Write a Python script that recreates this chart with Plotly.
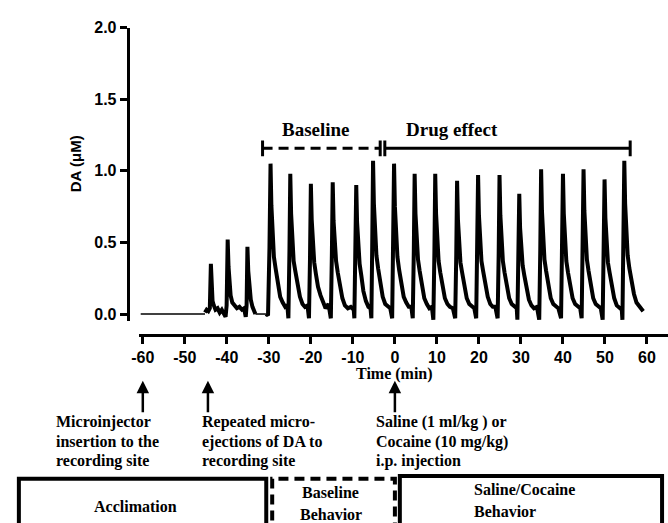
import plotly.graph_objects as go

W, H = 668, 523

# ---------------- data ----------------
x_tickvals = [-60, -50, -40, -30, -20, -10, 0, 10, 20, 30, 40, 50, 60]
x_ticktext = ["-60", "-50", "-40", "-30", "-20", "-10", "0", "10", "20", "30", "40", "50", "60"]
y_tickvals = [0.0, 0.5, 1.0, 1.5, 2.0]
y_ticktext = ["0.0", "0.5", "1.0", "1.5", "2.0"]

# thin flat recording (no DA ejections)
flat_time = [-60.5, -45.2, None, -33.2, -30.7]
flat_da = [0.0, 0.0, None, 0.0, 0.0]

# DA trace (time in min, DA in uM)
trace_points = [
    (-45.2, 0.01), (-44.8, 0.03), (-44.4, 0.02), (-44.05, 0.04), (-43.8, 0.35), (-43.6, 0.20),
    (-43.4, 0.09), (-43.1, 0.06), (-42.7, 0.03), (-42.2, 0.04), (-41.7, 0.01), (-41.2, 0.03),
    (-40.7, 0.00), (-40.3, -0.02),
    (-40.05, 0.06), (-39.8, 0.52), (-39.6, 0.33), (-39.4, 0.20), (-39.1, 0.13), (-38.7, 0.08),
    (-38.2, 0.06), (-37.6, 0.04), (-37.0, 0.05), (-36.4, 0.03), (-35.9, 0.04), (-35.5, -0.02),
    (-35.3, 0.06), (-35.1, 0.47), (-34.9, 0.30), (-34.6, 0.17), (-34.3, 0.10), (-33.9, 0.05),
    (-33.5, 0.02), (-33.2, 0.00),
    (None, None),
    (-30.7, 0.00), (-30.2, -0.01), (-29.85, 0.47), (-29.6, 1.05), (-29.4, 0.76), (-29.15, 0.55),
    (-28.8, 0.40), (-28.4, 0.32), (-27.9, 0.21), (-27.3, 0.12), (-26.7, 0.08), (-26.1, 0.05),
    (-25.6, 0.06), (-25.35, -0.03),
    (-25.1, 0.44), (-24.9, 0.98), (-24.7, 0.70), (-24.45, 0.50), (-24.1, 0.37), (-23.7, 0.30),
    (-23.2, 0.20), (-22.6, 0.12), (-22.0, 0.07), (-21.4, 0.05), (-20.8, 0.06), (-20.45, -0.03),
    (-20.2, 0.40), (-20.0, 0.91), (-19.8, 0.66), (-19.55, 0.47), (-19.2, 0.36), (-18.8, 0.28),
    (-18.3, 0.19), (-17.7, 0.13), (-17.1, 0.08), (-16.5, 0.04), (-15.8, 0.07), (-15.25, -0.03),
    (-15.0, 0.42), (-14.8, 0.92), (-14.6, 0.65), (-14.35, 0.48), (-14.0, 0.37), (-13.6, 0.29),
    (-13.1, 0.19), (-12.5, 0.11), (-11.9, 0.06), (-11.2, 0.04), (-10.5, 0.05), (-9.8, 0.03),
    (-9.65, -0.03),
    (-9.4, 0.40), (-9.2, 0.90), (-9.0, 0.64), (-8.75, 0.46), (-8.4, 0.35), (-8.0, 0.27),
    (-7.5, 0.16), (-6.9, 0.09), (-6.3, 0.05), (-5.8, 0.04), (-5.6, -0.03),
    (-5.4, 0.48), (-5.2, 1.07), (-5.0, 0.77), (-4.75, 0.55), (-4.4, 0.41), (-4.0, 0.32),
    (-3.5, 0.21), (-2.9, 0.12), (-2.3, 0.07), (-1.7, 0.05), (-1.1, 0.04), (-0.65, -0.03),
    (-0.4, 0.46), (-0.2, 1.05), (0.0, 0.75), (0.25, 0.54), (0.6, 0.40), (1.0, 0.31),
    (1.5, 0.21), (2.1, 0.12), (2.7, 0.08), (3.3, 0.05), (3.9, 0.05), (4.25, -0.03),
    (4.5, 0.44), (4.7, 0.98), (4.9, 0.70), (5.15, 0.50), (5.5, 0.38), (5.9, 0.30),
    (6.4, 0.20), (7.0, 0.11), (7.6, 0.07), (8.2, 0.04), (8.8, 0.05), (9.15, -0.04),
    (9.4, 0.43), (9.6, 0.98), (9.8, 0.70), (10.05, 0.50), (10.4, 0.37), (10.8, 0.29),
    (11.3, 0.19), (11.9, 0.11), (12.5, 0.07), (13.1, 0.05), (13.8, 0.04), (14.35, -0.03),
    (14.6, 0.41), (14.8, 0.93), (15.0, 0.66), (15.25, 0.48), (15.6, 0.36), (16.0, 0.29),
    (16.5, 0.19), (17.1, 0.11), (17.7, 0.07), (18.3, 0.05), (18.9, 0.04), (19.35, -0.03),
    (19.6, 0.43), (19.8, 0.97), (20.0, 0.69), (20.25, 0.50), (20.6, 0.37), (21.0, 0.30),
    (21.5, 0.20), (22.1, 0.12), (22.7, 0.07), (23.3, 0.05), (23.9, 0.05), (24.45, -0.03),
    (24.7, 0.42), (24.9, 0.97), (25.1, 0.69), (25.35, 0.49), (25.7, 0.37), (26.1, 0.29),
    (26.6, 0.19), (27.2, 0.11), (27.8, 0.07), (28.4, 0.05), (29.0, 0.04), (29.15, -0.04),
    (29.4, 0.37), (29.6, 0.84), (29.8, 0.60), (30.05, 0.44), (30.4, 0.34), (30.8, 0.27),
    (31.3, 0.18), (31.9, 0.10), (32.5, 0.06), (33.1, 0.04), (33.8, 0.05), (34.35, -0.04),
    (34.6, 0.45), (34.8, 1.01), (35.0, 0.72), (35.25, 0.52), (35.6, 0.38), (36.0, 0.30),
    (36.5, 0.20), (37.1, 0.11), (37.7, 0.07), (38.3, 0.05), (38.9, 0.04), (39.55, -0.03),
    (39.8, 0.43), (40.0, 0.98), (40.2, 0.70), (40.45, 0.50), (40.8, 0.37), (41.2, 0.29),
    (41.7, 0.19), (42.3, 0.11), (42.9, 0.07), (43.5, 0.05), (44.1, 0.04), (44.45, -0.03),
    (44.7, 0.45), (44.9, 1.01), (45.1, 0.72), (45.35, 0.52), (45.7, 0.38), (46.1, 0.30),
    (46.6, 0.20), (47.2, 0.11), (47.8, 0.07), (48.4, 0.05), (49.0, 0.04), (49.45, -0.04),
    (49.7, 0.42), (49.9, 0.94), (50.1, 0.67), (50.35, 0.48), (50.7, 0.36), (51.1, 0.29),
    (51.6, 0.19), (52.2, 0.11), (52.8, 0.06), (53.4, 0.04), (54.0, 0.03), (54.15, -0.04),
    (54.4, 0.48), (54.6, 1.07), (54.8, 0.77), (55.05, 0.55), (55.4, 0.41), (55.8, 0.32),
    (56.3, 0.22), (56.9, 0.14), (57.5, 0.08), (58.2, 0.05), (58.7, 0.03), (59.1, 0.02),
]
trace_time = [p[0] for p in trace_points]
trace_da = [p[1] for p in trace_points]

# period brackets (time span, level)
baseline_span = [-31.5, -3.5]
drug_span = [-2.4, 56.0]
bracket_level = 1.157
bracket_half = 0.055

# arrow times
arrow_times = [-60, -44.5, 0]

# ---------------- figure ----------------
def px(x):
    return x / W

def py(y):
    return 1 - y / H

fig = go.Figure()
fig.add_trace(go.Scatter(x=flat_time, y=flat_da, mode="lines",
                         line=dict(color="black", width=1.5), connectgaps=False,
                         hoverinfo="skip"))
fig.add_trace(go.Scatter(x=trace_time, y=trace_da, mode="lines",
                         line=dict(color="black", width=4), connectgaps=False,
                         hoverinfo="skip"))

SANS = "Liberation Sans"
SERIF = "Liberation Serif"

fig.update_layout(
    width=W, height=H, margin=dict(l=0, r=0, t=0, b=0),
    paper_bgcolor="white", plot_bgcolor="white", showlegend=False,
    xaxis=dict(domain=[px(133), 1.0], range=[-61, 65], anchor="free", position=py(333),
               showline=True, linecolor="black", linewidth=3,
               ticks="outside", ticklen=7, tickwidth=3, tickcolor="black",
               tickvals=x_tickvals, ticktext=x_ticktext,
               tickfont=dict(family=SANS, size=16, color="black", weight="bold"),
               showgrid=False, zeroline=False),
    yaxis=dict(domain=[py(319), py(20)], range=[-0.048, 2.0], anchor="free", position=px(122),
               showline=True, linecolor="black", linewidth=3,
               ticks="outside", ticklen=7, tickwidth=3, tickcolor="black",
               tickvals=y_tickvals, ticktext=y_ticktext,
               tickfont=dict(family=SANS, size=16, color="black", weight="bold"),
               showgrid=False, zeroline=False),
)

shapes = []
# baseline bracket (dashed)
shapes.append(dict(type="line", xref="x", yref="y", x0=baseline_span[0], x1=baseline_span[1],
                   y0=bracket_level, y1=bracket_level, line=dict(color="black", width=3, dash="10px,6px")))
for xv in baseline_span:
    shapes.append(dict(type="line", xref="x", yref="y", x0=xv, x1=xv,
                       y0=bracket_level - bracket_half, y1=bracket_level + bracket_half,
                       line=dict(color="black", width=3)))
# drug effect bracket (solid)
shapes.append(dict(type="line", xref="x", yref="y", x0=drug_span[0], x1=drug_span[1],
                   y0=bracket_level, y1=bracket_level, line=dict(color="black", width=3)))
for xv in drug_span:
    shapes.append(dict(type="line", xref="x", yref="y", x0=xv, x1=xv,
                       y0=bracket_level - bracket_half, y1=bracket_level + bracket_half,
                       line=dict(color="black", width=3)))
# bottom boxes
shapes.append(dict(type="rect", xref="paper", yref="paper", x0=px(12), x1=px(262),
                   y0=py(540), y1=py(480), line=dict(color="black", width=4)))
shapes.append(dict(type="rect", xref="paper", yref="paper", x0=px(268), x1=px(392),
                   y0=py(540), y1=py(480), line=dict(color="black", width=4, dash="10px,6px")))
shapes.append(dict(type="rect", xref="paper", yref="paper", x0=px(397), x1=px(662),
                   y0=py(540), y1=py(477), line=dict(color="black", width=4)))
fig.update_layout(shapes=shapes)

ann = []
def text(s, x, y, size=16, anchor="left", family=SERIF):
    ann.append(dict(text="<b>" + s + "</b>", x=px(x), y=py(y), xref="paper", yref="paper",
                    xanchor=anchor, yanchor="middle", showarrow=False,
                    font=dict(family=family, size=size, color="black")))

# y-axis title
ann.append(dict(text="<b>DA (μM)</b>", x=px(70), y=py(159), xref="paper", yref="paper",
                xanchor="center", yanchor="middle", textangle=-90, showarrow=False,
                font=dict(family=SANS, size=15, color="black")))
text("Time (min)", 392, 373, size=16, anchor="center")
text("Baseline", 312, 124, size=19, anchor="center")
text("Drug effect", 450, 124, size=19, anchor="center")

text("Microinjector", 48, 422)
text("insertion to the", 48, 442)
text("recording site", 48, 462)
text("Repeated micro-", 195, 422)
text("ejections of DA to", 195, 442)
text("recording site", 195, 462)
text("Saline (1 ml/kg ) or", 371, 422)
text("Cocaine (10 mg/kg)", 371, 442)
text("i.p. injection", 371, 462)

text("Acclimation", 130, 508, anchor="center")
text("Baseline", 327, 494, anchor="center")
text("Behavior", 327, 516, anchor="center")
text("Saline/Cocaine", 470, 491)
text("Behavior", 470, 513)

for t in arrow_times:
    ann.append(dict(text="", x=t, y=py(380), xref="x", yref="paper",
                    showarrow=True, arrowhead=2, arrowsize=1, arrowwidth=2.5,
                    arrowcolor="black", ax=0, ay=33, standoff=0))

fig.update_layout(annotations=ann)
fig.write_html("out.html", config={"displayModeBar": False},
               post_script="document.body.style.margin='0px';document.body.style.overflow='hidden';")
